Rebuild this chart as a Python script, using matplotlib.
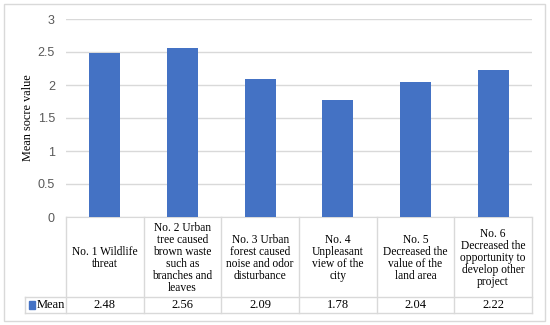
import matplotlib.pyplot as plt
from matplotlib.patches import Rectangle
from matplotlib.transforms import blended_transform_factory

# Data
categories = [
    "No. 1 Wildlife\nthreat",
    "No. 2 Urban\ntree caused\nbrown waste\nsuch as\nbranches and\nleaves",
    "No. 3 Urban\nforest caused\nnoise and odor\ndisturbance",
    "No. 4\nUnpleasant\nview of the\ncity",
    "No. 5\nDecreased the\nvalue of the\nland area",
    "No. 6\nDecreased the\nopportunity to\ndevelop other\nproject",
]
mean_values = [2.48, 2.56, 2.09, 1.78, 2.04, 2.22]
value_labels = ["2.48", "2.56", "2.09", "1.78", "2.04", "2.22"]
series_name = "Mean"
y_ticks = [0, 0.5, 1, 1.5, 2, 2.5, 3]
y_tick_labels = ["0", "0.5", "1", "1.5", "2", "2.5", "3"]

W, H = 550, 325
BAR_COLOR = "#4472C4"
GRID = "#D9D9D9"
SERIF = ["Liberation Serif", "DejaVu Serif"]

fig = plt.figure(figsize=(W / 100, H / 100), dpi=100)

def fx(px):
    return px / W

def fy(py):
    return 1 - py / H

ax_l, ax_r, ax_t, ax_b = 66, 532, 19, 217
ax = fig.add_axes([fx(ax_l), fy(ax_b), fx(ax_r - ax_l), fy(ax_t) - fy(ax_b)])

x = list(range(len(categories)))
ax.bar(x, mean_values, width=0.4, color=BAR_COLOR, zorder=3)
ax.set_xlim(-0.5, len(categories) - 0.5)
ax.set_ylim(0, 3)
ax.set_yticks(y_ticks)
ax.set_yticklabels(y_tick_labels, fontsize=9, color="#595959", family="Liberation Sans")
ax.set_xticks([])
ax.tick_params(axis="y", length=0, pad=8)
ax.yaxis.grid(True, color=GRID, lw=1, zorder=0)
for s in ["top", "right", "left"]:
    ax.spines[s].set_visible(False)
ax.spines["bottom"].set_color(GRID)
ax.set_ylabel("Mean socre value", fontsize=8.8, family=SERIF)
ax.yaxis.set_label_coords((34 - ax_l) / (ax_r - ax_l), 0.5)

# data table below the plot
row_top, row_mid, row_bot = 217, 297, 313
leg_l = 25
lc = GRID
lw = 1.0
fig.add_artist(plt.Line2D([fx(leg_l), fx(ax_r)], [fy(row_mid)] * 2, color=lc, lw=lw))
fig.add_artist(plt.Line2D([fx(leg_l), fx(ax_r)], [fy(row_bot)] * 2, color=lc, lw=lw))
fig.add_artist(plt.Line2D([fx(leg_l)] * 2, [fy(row_mid), fy(row_bot)], color=lc, lw=lw))
col_w = (ax_r - ax_l) / len(categories)
for i in range(len(categories) + 1):
    xp = ax_l + i * col_w
    fig.add_artist(plt.Line2D([fx(xp)] * 2, [fy(row_top), fy(row_bot)], color=lc, lw=lw))

trans = blended_transform_factory(ax.transData, fig.transFigure)
for i, (cat, lab) in enumerate(zip(categories, value_labels)):
    fig.text(i, fy((row_top + row_mid) / 2 + 1), cat, transform=trans, ha="center", va="center",
             fontsize=8.3, family=SERIF, linespacing=1.02)
    fig.text(i, fy((row_mid + row_bot) / 2), lab, transform=trans, ha="center", va="center",
             fontsize=9, family=SERIF)

# legend key in table
fig.add_artist(Rectangle((fx(29), fy(309)), fx(6), fy(301) - fy(309), color=BAR_COLOR))
fig.text(fx(37), fy((row_mid + row_bot) / 2), series_name, ha="left", va="center",
         fontsize=9, family=SERIF)

# outer chart border
fig.add_artist(Rectangle((fx(4), fy(321)), fx(541), fy(4) - fy(321), fill=False,
                         edgecolor=GRID, lw=1))

fig.savefig("out.png", dpi=100)
